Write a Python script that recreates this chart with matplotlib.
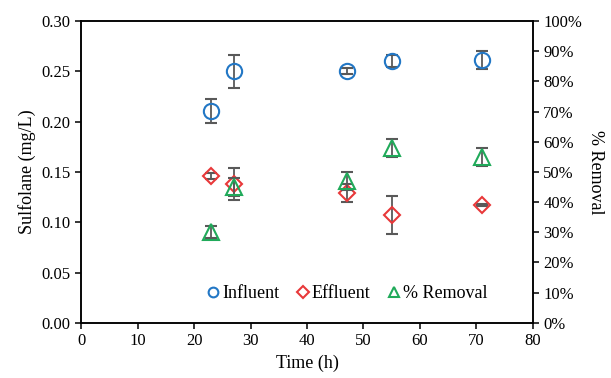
import matplotlib.pyplot as plt
from matplotlib.ticker import FuncFormatter

plt.rcParams['font.family'] = ['Liberation Serif', 'DejaVu Serif']
plt.rcParams['font.size'] = 12

# sampling times (h)
time = [23, 27, 47, 55, 71]

# sulfolane concentrations (mg/L) with standard deviations
influent = [0.211, 0.250, 0.250, 0.260, 0.261]
influent_err = [0.012, 0.016, 0.003, 0.006, 0.009]
effluent = [0.146, 0.138, 0.129, 0.107, 0.117]
effluent_err = [0.003, 0.016, 0.009, 0.019, 0.001]

# removal efficiency (%)
removal = [30, 45, 47, 58, 55]
removal_err = [2, 3, 3, 3, 3]

blue = '#2277C5'
red = '#E8383A'
green = '#20AA5A'
errc = '#595959'

fig, ax = plt.subplots(figsize=(6.11, 3.78), dpi=100)
fig.subplots_adjust(left=0.133, right=0.872, top=0.944, bottom=0.146)
ax2 = ax.twinx()

ekw = dict(ecolor=errc, elinewidth=1.3, capsize=4, capthick=1.3, linestyle='none', zorder=3)
ax.errorbar(time, influent, yerr=influent_err, marker='o', ms=11, mfc='none',
            mec=blue, mew=1.5, **ekw)
ax.errorbar(time, effluent, yerr=effluent_err, marker='D', ms=8.5, mfc='none',
            mec=red, mew=1.5, **ekw)
ax2.errorbar(time, removal, yerr=removal_err, marker='^', ms=11, mfc='none',
             mec=green, mew=1.5, **ekw)

ax.set_xlim(0, 80)
ax.set_ylim(0, 0.30)
ax.set_xticks(range(0, 81, 10))
ax.set_yticks([i * 0.05 for i in range(7)])
ax.yaxis.set_major_formatter(FuncFormatter(lambda v, p: f'{v:.2f}'))
ax2.set_ylim(0, 100)
ax2.set_yticks(range(0, 101, 10))
ax2.yaxis.set_major_formatter(FuncFormatter(lambda v, p: f'{v:.0f}%'))

ax.set_xlabel('Time (h)', fontsize=13)
ax.set_ylabel('Sulfolane (mg/L)', fontsize=13)
ax2.set_ylabel('% Removal', fontsize=13, rotation=270, labelpad=16)

for a in (ax, ax2):
    for s in a.spines.values():
        s.set_linewidth(1.1)
    a.tick_params(width=1.1, length=4)

# legend entries with small markers
h1, = ax.plot([], [], 'o', mfc='none', mec=blue, mew=1.5, ms=7, label='Influent')
h2, = ax.plot([], [], 'D', mfc='none', mec=red, mew=1.5, ms=6, label='Effluent')
h3, = ax.plot([], [], '^', mfc='none', mec=green, mew=1.5, ms=7, label='% Removal')
ax.legend(handles=[h1, h2, h3], ncol=3, frameon=False, loc='lower center',
          bbox_to_anchor=(0.59, 0.015), handlelength=0.6, handletextpad=0.2,
          columnspacing=1.0, fontsize=13)

fig.savefig('out.png', dpi=100)
